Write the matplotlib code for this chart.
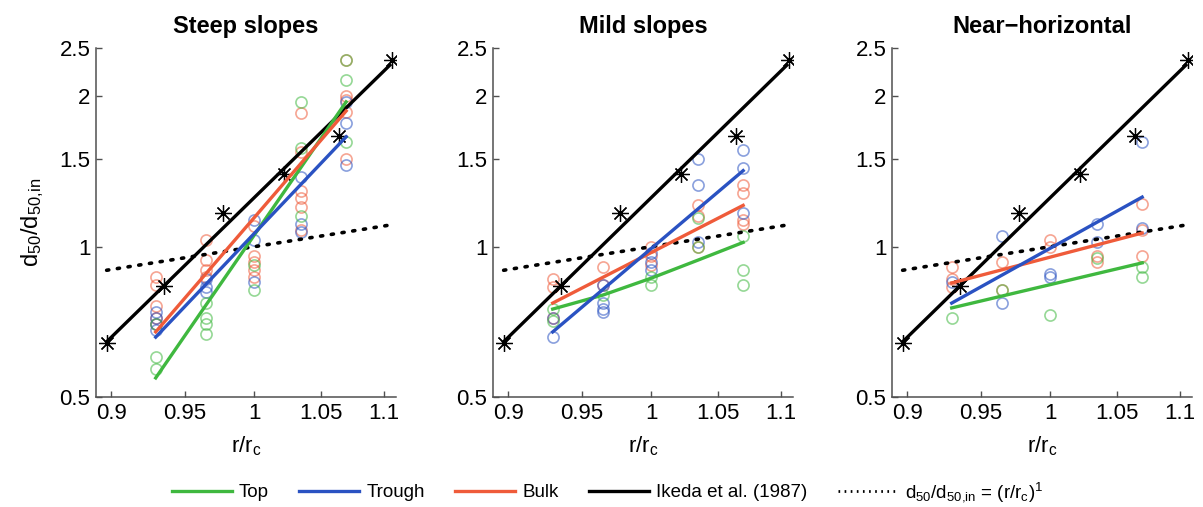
import matplotlib
matplotlib.use("Agg")
import matplotlib.pyplot as plt
from matplotlib.lines import Line2D
from matplotlib.ticker import FixedLocator, NullLocator, FixedFormatter

plt.rcParams["font.family"] = ["Liberation Sans", "DejaVu Sans"]
plt.rcParams["mathtext.default"] = "regular"

# r/rc positions of the measurement columns
r_cols = [0.93, 0.965, 1.0, 1.035, 1.07]

# Ikeda et al. (1987) points and their fit line
ikeda_x = [0.897, 0.936, 0.977, 1.022, 1.064, 1.107]
ikeda_y = [0.641, 0.834, 1.168, 1.398, 1.665, 2.365]
ikeda_line_x = [0.897, 1.105]
ikeda_line_y = [0.645, 2.31]

# d50/d50,in = (r/rc)^1 reference
ref_x = [0.897, 1.107]
ref_y = [0.897, 1.107]

panel_titles = ["Steep slopes", "Mild slopes", "Near\u2212horizontal"]

# measured points, one list per r/rc column
steep_top = [[0.60, 0.57, 0.70], [0.77, 0.72, 0.70, 0.67], [0.82, 0.92],
             [1.95, 1.58, 1.15], [2.37, 2.16, 1.62]]
steep_trough = [[0.74, 0.72, 0.70, 0.68], [0.86, 0.83, 0.81], [1.13, 1.03, 0.85],
                [1.38, 1.11, 1.07], [1.95, 1.77, 1.46]]
steep_bulk = [[0.87, 0.84, 0.76, 0.72, 0.70], [1.03, 0.94, 0.90, 0.87],
              [1.10, 0.96, 0.93, 0.90, 0.87], [1.85, 1.55, 1.29, 1.25, 1.20, 1.08],
              [2.37, 2.00, 1.97, 1.86, 1.50]]

mild_top = [[0.75, 0.71], [0.80], [0.87, 0.84], [1.14, 1.00], [1.05, 0.90, 0.84]]
mild_trough = [[0.72, 0.66], [0.84, 0.77, 0.75, 0.74], [0.97, 0.93, 0.90],
               [1.50, 1.33, 1.02], [1.56, 1.44, 1.17]]
mild_bulk = [[0.86, 0.83, 0.72], [0.91, 0.84], [1.00, 0.96, 0.92],
             [1.21, 1.15, 1.00], [1.33, 1.28, 1.13, 1.11]]

flat_top = [[0.72], [0.82], [0.73], [0.95], [0.91, 0.87]]
flat_trough = [[0.85], [1.05, 0.77], [0.88, 0.87], [1.11, 1.02], [1.62, 1.09]]
flat_bulk = [[0.91, 0.86, 0.83], [0.93, 0.82], [1.03, 1.00], [0.96, 0.93],
             [1.22, 1.08, 0.96]]

# fitted lines (x positions and values)
fit_x = [0.93, 1.07]
steep_fit_top = [0.546, 1.95]
steep_fit_trough = [0.659, 1.66]
steep_fit_bulk = [0.675, 1.87]
mild_fit_top_x = [0.93, 0.965, 1.0, 1.035, 1.07]
mild_fit_top = [0.75, 0.80, 0.865, 0.94, 1.02]
mild_fit_trough = [0.675, 1.42]
mild_fit_bulk = [0.771, 1.21]
flat_fit_top = [0.754, 0.928]
flat_fit_trough = [0.771, 1.257]
flat_fit_bulk = [0.846, 1.065]

c_top = "#3fb83f"
c_trough = "#2a52c2"
c_bulk = "#ef5b3a"

panels = [
    (steep_top, steep_trough, steep_bulk,
     (fit_x, steep_fit_top), (fit_x, steep_fit_trough), (fit_x, steep_fit_bulk)),
    (mild_top, mild_trough, mild_bulk,
     (mild_fit_top_x, mild_fit_top), (fit_x, mild_fit_trough), (fit_x, mild_fit_bulk)),
    (flat_top, flat_trough, flat_bulk,
     (fit_x, flat_fit_top), (fit_x, flat_fit_trough), (fit_x, flat_fit_bulk)),
]

W, H = 1203, 507
fig = plt.figure(figsize=(W / 100, H / 100), dpi=100)
lefts = [96, 493, 892]

for i, (top, trough, bulk, ftop, ftrough, fbulk) in enumerate(panels):
    ax = fig.add_axes([lefts[i] / W, 1 - 397 / H, 300 / W, 349 / H])
    ax.set_xscale("log")
    ax.set_yscale("log")

    for cols, col in ((bulk, c_bulk), (trough, c_trough), (top, c_top)):
        for xv, ys in zip(r_cols, cols):
            ax.plot([xv] * len(ys), ys, "o", mfc="none", mec=col, ms=8,
                    mew=1.2, alpha=0.55, ls="none")

    ax.plot(ref_x, ref_y, color="black", lw=2.6, ls=(0, (0.6, 2.4)),
            dash_capstyle="round")
    ax.plot(ikeda_line_x, ikeda_line_y, color="black", lw=2.4)
    ax.plot(ikeda_x, ikeda_y, ls="none", marker=(8, 2, 0), ms=12,
            mec="black", mew=0.9)

    ax.plot(*ftop, color=c_top, lw=2.4)
    ax.plot(*fbulk, color=c_bulk, lw=2.4)
    ax.plot(*ftrough, color=c_trough, lw=2.4)

    ax.set_xlim(0.89, 1.11)
    ax.set_ylim(0.5, 2.5)
    ax.xaxis.set_major_locator(FixedLocator([0.9, 0.95, 1.0, 1.05, 1.1]))
    ax.xaxis.set_major_formatter(FixedFormatter(["0.9", "0.95", "1", "1.05", "1.1"]))
    ax.xaxis.set_minor_locator(NullLocator())
    ax.yaxis.set_major_locator(FixedLocator([0.5, 1.0, 1.5, 2.0, 2.5]))
    ax.yaxis.set_major_formatter(FixedFormatter(["0.5", "1", "1.5", "2", "2.5"]))
    ax.yaxis.set_minor_locator(NullLocator())
    ax.tick_params(direction="in", length=4, width=1, color="#505050",
                   labelsize=16, pad=4)
    for side in ("top", "right"):
        ax.spines[side].set_visible(False)
    for side in ("left", "bottom"):
        ax.spines[side].set_color("#505050")
        ax.spines[side].set_linewidth(1.1)

    ax.set_title(panel_titles[i], fontsize=17, fontweight="bold", pad=11)
    ax.set_xlabel("r/r$_c$", fontsize=16, labelpad=8)
    if i == 0:
        ax.set_ylabel("d$_{50}$/d$_{50{,}in}$", fontsize=17, labelpad=10)

handles = [
    Line2D([], [], color=c_top, lw=2.4),
    Line2D([], [], color=c_trough, lw=2.4),
    Line2D([], [], color=c_bulk, lw=2.4),
    Line2D([], [], color="black", lw=2.4),
    Line2D([], [], color="black", lw=2.0, ls=(0, (0.6, 1.6))),
]
labels = ["Top", "Trough", "Bulk", "Ikeda et al. (1987)",
          "d$_{50}$/d$_{50{,}in}$ = (r/r$_c$)$^1$"]
fig.legend(handles, labels, loc="center", bbox_to_anchor=(0.505, 0.03),
           ncol=5, frameon=False, fontsize=13.5, handlelength=3.2,
           handletextpad=0.4, columnspacing=1.6)

fig.savefig("out.png", dpi=100)
